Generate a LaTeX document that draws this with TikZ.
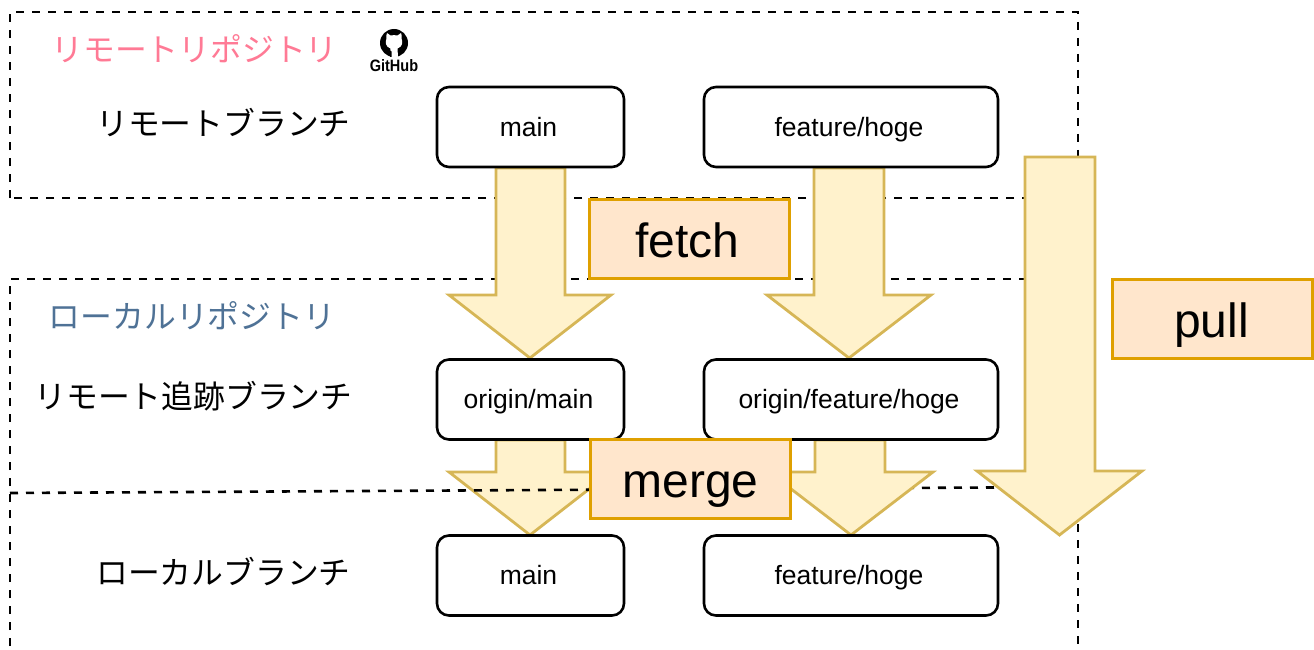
\documentclass[tikz,border=0pt]{standalone}
\usepackage{fontspec}
\setmainfont{Liberation Sans}
\newfontfamily\cjk{Noto Sans CJK JP}
\definecolor{arrowfill}{HTML}{FFF2CC}
\definecolor{arrowline}{HTML}{D6B656}
\definecolor{opfill}{HTML}{FFE6CC}
\definecolor{opline}{HTML}{DFA000}
\definecolor{pinklabel}{HTML}{FF7A95}
\definecolor{bluelabel}{HTML}{4F7296}
\tikzset{
  region/.style={draw=black,line width=2.6pt,dash pattern=on 8pt off 8pt},
  bigarrow/.style={draw=arrowline,fill=arrowfill,line width=2.8pt,line join=miter},
  branch/.style={draw=black,fill=white,line width=2.6pt,rounded corners=12pt,minimum height=80pt,inner sep=0pt,text height=18pt,text depth=0pt,execute at begin node=\kern-4pt,font=\fontsize{26.5}{30}\selectfont},
  opbox/.style={draw=opline,fill=opfill,line width=3pt,minimum width=200pt,minimum height=79pt,inner sep=0pt,text height=36pt,text depth=0pt,font=\fontsize{48}{54}\selectfont},
  lbl/.style={inner sep=0pt,font=\cjk\fontsize{31.8}{34}\selectfont}
}
\newcommand{\downarrowshape}[6]{% shaft L, shaft R, top, head y, wing L, wing R ; tip computed
  \draw[bigarrow] (#1,#3) -- (#2,#3) -- (#2,#4) -- (#6,#4) -- ({(#5+#6)/2},535) -- (#5,#4) -- (#1,#4) -- cycle;}
\begin{document}
\begin{tikzpicture}[x=1pt,y=-1pt]
\useasboundingbox (0,0) rectangle (1314,650);
% arrow beneath the dashed lines
\downarrowshape{496}{565}{440}{472}{449}{611}
% dashed regions
\draw[region] (10,198) -- (10,12) -- (1078,12) -- (1078,198) -- cycle;
\draw[region] (10,646) -- (10,279) -- (1078,279) -- (1078,646);
\draw[region] (10,493) -- (1078,487);
% arrows above them
\draw[bigarrow] (496,168) -- (565,168) -- (565,295) -- (611,295) -- (530,358) -- (449,295) -- (496,295) -- cycle;
\draw[bigarrow] (814,168) -- (884,168) -- (884,295) -- (931,295) -- (849,358) -- (767,295) -- (814,295) -- cycle;
\downarrowshape{815}{885}{440}{472}{769}{933}
\downarrowshape{1025}{1095}{157}{471}{977}{1142}
% branches
\node[branch,minimum width=187pt] (rmain) at (530.5,127) {main};
\node[branch,minimum width=294pt] (rfeat) at (851,127) {feature/hoge};
\node[branch,minimum width=187pt] (omain) at (530.5,399.5) {origin/main};
\node[branch,minimum width=294pt] (ofeat) at (851,399.5) {origin/feature/hoge};
\node[branch,minimum width=187pt] (lmain) at (530.5,575.5) {main};
\node[branch,minimum width=294pt] (lfeat) at (851,575.5) {feature/hoge};
% operations
\node[opbox,execute at begin node=\kern-4pt] (fetch) at (689.5,239) {fetch};
\node[opbox] (merge) at (690.5,479) {merge};
\node[opbox,execute at begin node=\kern-2pt] (pull) at (1212.5,319) {pull};
% labels
\node[lbl,text=pinklabel] (remote) at (194.5,49) {リモートリポジトリ};
\node[lbl] (rbranch) at (223.5,123) {リモートブランチ};
\node[lbl,text=bluelabel] (local) at (192,316) {ローカルリポジトリ};
\node[lbl] (tbranch) at (193.5,396) {リモート追跡ブランチ};
\node[lbl] (lbranch) at (223.5,572) {ローカルブランチ};
% GitHub mark
\fill[black] (394,43) circle (14);
\fill[white] (387,33) -- (390.5,35.5) .. controls (393,35) and (395,35) .. (397.5,35.5) -- (401,33)
  .. controls (401.8,35) and (402,37) .. (401.5,38.5) .. controls (403,42) and (402.5,47) .. (397.5,48.5)
  -- (398,57) -- (390,57) -- (390.5,48.5) .. controls (385.5,47) and (385,42) .. (386.5,38.5)
  .. controls (386,37) and (386.2,35) .. (387,33) -- cycle;
\fill[black] (382,47.5) .. controls (385,49) and (386,52) .. (390,52) -- (390,57) -- (391.5,57) -- (391.5,51.5) -- (390,50.5) .. controls (387,50.5) and (385,47.5) .. (382,47.5) -- cycle;
\node[inner sep=0pt,xscale=0.88,font=\bfseries\fontsize{16.5}{17}\selectfont] (github) at (394,65.5) {GitHub};
\end{tikzpicture}
\end{document}
